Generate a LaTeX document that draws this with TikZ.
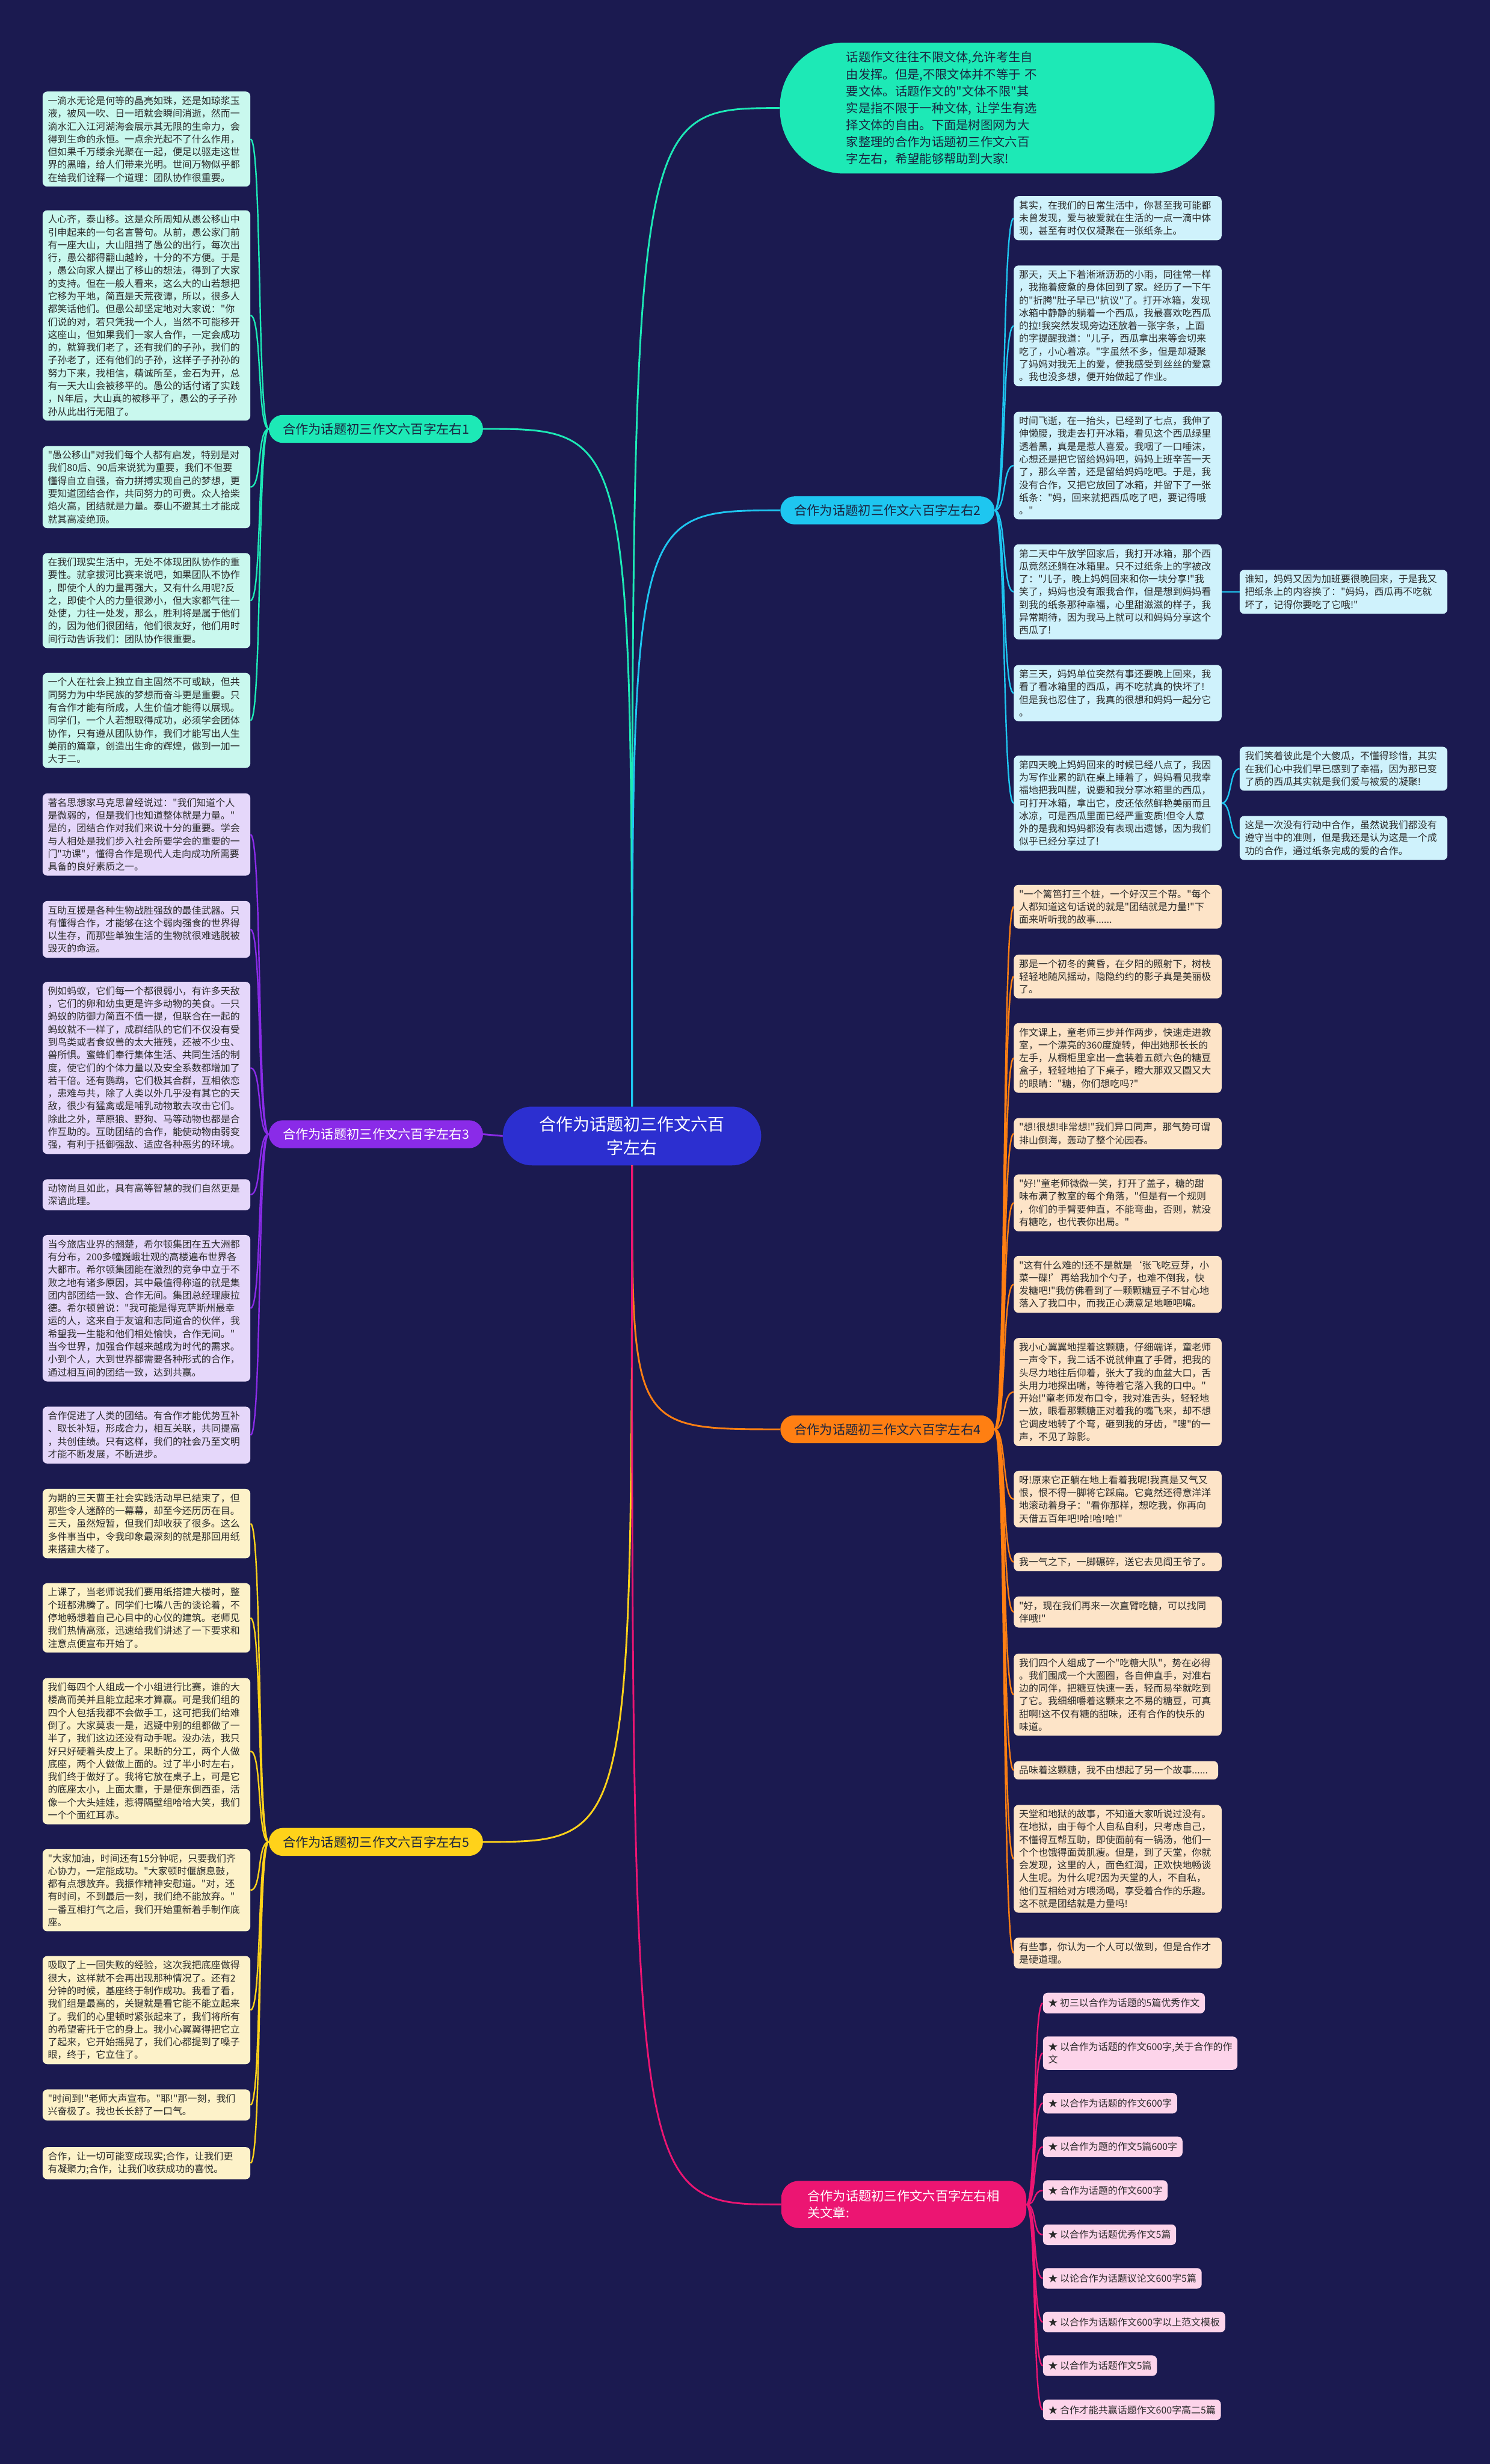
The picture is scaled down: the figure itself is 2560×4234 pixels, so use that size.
\documentclass[tikz,border=0pt]{standalone}
\usepackage{fontspec}
\setmainfont{Noto Sans CJK SC}
\newfontfamily\cjk{Noto Sans CJK SC}
\definecolor{bg}{HTML}{1B1A50}
\definecolor{cen}{HTML}{2C2FD0}
\definecolor{cA}{HTML}{1DE9B6}
\definecolor{cB}{HTML}{1EC6F0}
\definecolor{cC}{HTML}{8A2BE8}
\definecolor{cD}{HTML}{FF7F12}
\definecolor{cE}{HTML}{FFD21A}
\definecolor{cF}{HTML}{EC1572}
\definecolor{lA}{HTML}{C9F8EE}
\definecolor{lB}{HTML}{CFF2FC}
\definecolor{lC}{HTML}{E5D7FA}
\definecolor{lD}{HTML}{FDE4C8}
\definecolor{lE}{HTML}{FDF2C9}
\definecolor{lF}{HTML}{FDD4EA}
\definecolor{txt}{HTML}{2A2A2A}
\definecolor{dtxt}{HTML}{1A2440}
\tikzset{
  box/.style={rounded corners=8pt, anchor=west, text width=339pt, align=left,
    inner xsep=9pt, inner ysep=8pt, font=\cjk\fontsize{16.5}{22}\selectfont, text=txt},
  pbox/.style={rounded corners=8pt, anchor=west, align=left,
    inner xsep=9pt, inner ysep=10pt, font=\cjk\fontsize{16.5}{22}\selectfont, text=txt},
  bnode/.style={rounded corners=24pt, minimum width=368pt, minimum height=48pt,
    inner sep=0pt, font=\cjk\fontsize{22}{28}\selectfont},
  lnk/.style={line width=2.5pt},
  mlnk/.style={line width=3pt}
}
\begin{document}
\begin{tikzpicture}[x=1pt,y=-1pt]
\useasboundingbox (0,0) rectangle (2560,4234);
\fill[bg] (0,0) rectangle (2560,4234);

% centre and intro
\node[fill=cen, rounded corners=50pt, minimum width=444pt, minimum height=101pt, align=center,
  text=white, font=\cjk\fontsize{29}{40}\selectfont] (center) at (1086,1952) {合作为话题初三作文六百\\字左右};
\node[fill=cA, rounded corners=110pt, anchor=north west, minimum height=225pt, text width=519pt,
  inner xsep=114pt, inner ysep=10pt, align=left, text=dtxt, font=\cjk\fontsize{21}{29}\selectfont]
  (intro) at (1340,73) {话题作文往往不限文体,允许考生自\\由发挥。但是,不限文体并不等于 不\\要文体。话题作文的"文体不限"其\\实是指不限于一种文体, 让学生有选\\择文体的自由。下面是树图网为大\\家整理的合作为话题初三作文六百\\字左右，希望能够帮助到大家!};

% branch nodes
\node[bnode, fill=cA, text=dtxt] (b1) at (646,737) {合作为话题初三作文六百字左右1};
\node[bnode, fill=cB, text=dtxt] (b2) at (1525,877) {合作为话题初三作文六百字左右2};
\node[bnode, fill=cC, text=white] (b3) at (646,1949) {合作为话题初三作文六百字左右3};
\node[bnode, fill=cD, text=dtxt] (b4) at (1525,2456) {合作为话题初三作文六百字左右4};
\node[bnode, fill=cE, text=dtxt] (b5) at (646,3165) {合作为话题初三作文六百字左右5};
\node[rounded corners=30pt, fill=cF, text=white, minimum width=421pt, minimum height=81pt,
  text width=331pt, align=left, font=\cjk\fontsize{22}{29}\selectfont] (b6) at (1553,3788) {合作为话题初三作文六百字左右相\\关文章:};

% branch 1 children
\node[box, fill=lA] (l1) at (73,239) {一滴水无论是何等的晶亮如珠，还是如琼浆玉\\液，被风一吹、日一晒就会瞬间消逝，然而一\\滴水汇入江河湖海会展示其无限的生命力，会\\得到生命的永恒。一点余光起不了什么作用，\\但如果千万缕余光聚在一起，便足以驱走这世\\界的黑暗，给人们带来光明。世间万物似乎都\\在给我们诠释一个道理：团队协作很重要。};
\node[box, fill=lA] (l2) at (73,542) {人心齐，泰山移。这是众所周知从愚公移山中\\引申起来的一句名言警句。从前，愚公家门前\\有一座大山，大山阻挡了愚公的出行，每次出\\行，愚公都得翻山越岭，十分的不方便。于是\\，愚公向家人提出了移山的想法，得到了大家\\的支持。但在一般人看来，这么大的山若想把\\它移为平地，简直是天荒夜谭，所以，很多人\\都笑话他们。但愚公却坚定地对大家说："你\\们说的对，若只凭我一个人，当然不可能移开\\这座山，但如果我们一家人合作，一定会成功\\的，就算我们老了，还有我们的子孙，我们的\\子孙老了，还有他们的子孙，这样子子孙孙的\\努力下来，我相信，精诚所至，金石为开，总\\有一天大山会被移平的。愚公的话付诸了实践\\，N年后，大山真的被移平了，愚公的子子孙\\孙从此出行无阻了。};
\node[box, fill=lA] (l3) at (73,837) {"愚公移山"对我们每个人都有启发，特别是对\\我们80后、90后来说犹为重要，我们不但要\\懂得自立自强，奋力拼搏实现自己的梦想，更\\要知道团结合作，共同努力的可贵。众人拾柴\\焰火高，团结就是力量。泰山不避其土才能成\\就其高凌绝顶。};
\node[box, fill=lA] (l4) at (73,1032) {在我们现实生活中，无处不体现团队协作的重\\要性。就拿拔河比赛来说吧，如果团队不协作\\，即使个人的力量再强大，又有什么用呢?反\\之，即使个人的力量很渺小，但大家都气往一\\处使，力往一处发，那么，胜利将是属于他们\\的，因为他们很团结，他们很友好，他们用时\\间行动告诉我们：团队协作很重要。};
\node[box, fill=lA] (l5) at (73,1238) {一个人在社会上独立自主固然不可或缺，但共\\同努力为中华民族的梦想而奋斗更是重要。只\\有合作才能有所成，人生价值才能得以展现。\\同学们，一个人若想取得成功，必须学会团体\\协作，只有遵从团队协作，我们才能写出人生\\美丽的篇章，创造出生命的辉煌，做到一加一\\大于二。};

% branch 3 children
\node[box, fill=lC] (l6) at (73,1434) {著名思想家马克思曾经说过："我们知道个人\\是微弱的，但是我们也知道整体就是力量。"\\是的，团结合作对我们来说十分的重要。学会\\与人相处是我们步入社会所要学会的重要的一\\门"功课"，懂得合作是现代人走向成功所需要\\具备的良好素质之一。};
\node[box, fill=lC] (l7) at (73,1597) {互助互援是各种生物战胜强敌的最佳武器。只\\有懂得合作，才能够在这个弱肉强食的世界得\\以生存，而那些单独生活的生物就很难逃脱被\\毁灭的命运。};
\node[box, fill=lC] (l8) at (73,1835) {例如蚂蚁，它们每一个都很弱小，有许多天敌\\，它们的卵和幼虫更是许多动物的美食。一只\\蚂蚁的防御力简直不值一提，但联合在一起的\\蚂蚁就不一样了，成群结队的它们不仅没有受\\到鸟类或者食蚁兽的太大摧残，还被不少虫、\\兽所惧。蜜蜂们奉行集体生活、共同生活的制\\度，使它们的个体力量以及安全系数都增加了\\若干倍。还有鹦鹉，它们极其合群，互相依恋\\，患难与共，除了人类以外几乎没有其它的天\\敌，很少有猛禽或是哺乳动物敢去攻击它们。\\除此之外，草原狼、野狗、马等动物也都是合\\作互助的。互助团结的合作，能使动物由弱变\\强，有利于抵御强敌、适应各种恶劣的环境。};
\node[box, fill=lC] (l9) at (73,2053) {动物尚且如此，具有高等智慧的我们自然更是\\深谙此理。};
\node[box, fill=lC] (l10) at (73,2248) {当今旅店业界的翘楚，希尔顿集团在五大洲都\\有分布，200多幢巍峨壮观的高楼遍布世界各\\大都市。希尔顿集团能在激烈的竞争中立于不\\败之地有诸多原因，其中最值得称道的就是集\\团内部团结一致、合作无间。集团总经理康拉\\德。希尔顿曾说："我可能是得克萨斯州最幸\\运的人，这来自于友谊和志同道合的伙伴，我\\希望我一生能和他们相处愉快，合作无间。"\\当今世界，加强合作越来越成为时代的需求。\\小到个人，大到世界都需要各种形式的合作，\\通过相互间的团结一致，达到共赢。};
\node[box, fill=lC] (l11) at (73,2466) {合作促进了人类的团结。有合作才能优势互补\\、取长补短，形成合力，相互关联，共同提高\\，共创佳绩。只有这样，我们的社会乃至文明\\才能不断发展，不断进步。};

% branch 5 children
\node[box, fill=lE] (l12) at (73,2618) {为期的三天曹王社会实践活动早已结束了，但\\那些令人迷醉的一幕幕，却至今还历历在目。\\三天，虽然短暂，但我们却收获了很多。这么\\多件事当中，令我印象最深刻的就是那回用纸\\来搭建大楼了。};
\node[box, fill=lE] (l13) at (73,2780) {上课了，当老师说我们要用纸搭建大楼时，整\\个班都沸腾了。同学们七嘴八舌的谈论着，不\\停地畅想着自己心目中的心仪的建筑。老师见\\我们热情高涨，迅速给我们讲述了一下要求和\\注意点便宣布开始了。};
\node[box, fill=lE] (l14) at (73,3009) {我们每四个人组成一个小组进行比赛，谁的大\\楼高而美并且能立起来才算赢。可是我们组的\\四个人包括我都不会做手工，这可把我们给难\\倒了。大家莫衷一是，迟疑中别的组都做了一\\半了，我们这边还没有动手呢。没办法，我只\\好只好硬着头皮上了。果断的分工，两个人做\\底座，两个人做做上面的。过了半小时左右，\\我们终于做好了。我将它放在桌子上，可是它\\的底座太小，上面太重，于是便东倒西歪，活\\像一个大头娃娃，惹得隔壁组哈哈大笑，我们\\一个个面红耳赤。};
\node[box, fill=lE] (l15) at (73,3248) {"大家加油，时间还有15分钟呢，只要我们齐\\心协力，一定能成功。"大家顿时偃旗息鼓，\\都有点想放弃。我振作精神安慰道。"对，还\\有时间，不到最后一刻，我们绝不能放弃。"\\一番互相打气之后，我们开始重新着手制作底\\座。};
\node[box, fill=lE] (l16) at (73,3454) {吸取了上一回失败的经验，这次我把底座做得\\很大，这样就不会再出现那种情况了。还有2\\分钟的时候，基座终于制作成功。我看了看，\\我们组是最高的，关键就是看它能不能立起来\\了。我们的心里顿时紧张起来了，我们将所有\\的希望寄托于它的身上。我小心翼翼得把它立\\了起来，它开始摇晃了，我们心都提到了嗓子\\眼，终于，它立住了。};
\node[box, fill=lE] (l17) at (73,3617) {"时间到!"老师大声宣布。"耶!"那一刻，我们\\兴奋极了。我也长长舒了一口气。};
\node[box, fill=lE] (l18) at (73,3717) {合作，让一切可能变成现实;合作，让我们更\\有凝聚力;合作，让我们收获成功的喜悦。};

% branch 2 children
\node[box, fill=lB] (r1) at (1742,375) {其实，在我们的日常生活中，你甚至我可能都\\未曾发现，爱与被爱就在生活的一点一滴中体\\现，甚至有时仅仅凝聚在一张纸条上。};
\node[box, fill=lB] (r2) at (1742,560) {那天，天上下着淅淅沥沥的小雨，同往常一样\\，我拖着疲惫的身体回到了家。经历了一下午\\的"折腾"肚子早已"抗议"了。打开冰箱，发现\\冰箱中静静的躺着一个西瓜，我最喜欢吃西瓜\\的拉!我突然发现旁边还放着一张字条，上面\\的字提醒我道："儿子，西瓜拿出来等会切来\\吃了，小心着凉。"字虽然不多，但是却凝聚\\了妈妈对我无上的爱，使我感受到丝丝的爱意\\。我也没多想，便开始做起了作业。};
\node[box, fill=lB] (r3) at (1742,800) {时间飞逝，在一抬头，已经到了七点，我伸了\\伸懒腰，我走去打开冰箱，看见这个西瓜绿里\\透着黑，真是是惹人喜爱。我咽了一口唾沫，\\心想还是把它留给妈妈吧，妈妈上班辛苦一天\\了，那么辛苦，还是留给妈妈吃吧。于是，我\\没有合作，又把它放回了冰箱，并留下了一张\\纸条："妈，回来就把西瓜吃了吧，要记得哦\\。"};
\node[box, fill=lB] (r4) at (1742,1017) {第二天中午放学回家后，我打开冰箱，那个西\\瓜竟然还躺在冰箱里。只不过纸条上的字被改\\了："儿子，晚上妈妈回来和你一块分享!"我\\笑了，妈妈也没有跟我合作，但是想到妈妈看\\到我的纸条那种幸福，心里甜滋滋的样子，我\\异常期待，因为我马上就可以和妈妈分享这个\\西瓜了!};
\node[box, fill=lB] (r5) at (1742,1191) {第三天，妈妈单位突然有事还要晚上回来，我\\看了看冰箱里的西瓜，再不吃就真的快坏了!\\但是我也忍住了，我真的很想和妈妈一起分它\\。};
\node[box, fill=lB] (r6) at (1742,1380) {第四天晚上妈妈回来的时候已经八点了，我因\\为写作业累的趴在桌上睡着了，妈妈看见我幸\\福地把我叫醒，说要和我分享冰箱里的西瓜，\\可打开冰箱，拿出它，皮还依然鲜艳美丽而且\\冰凉，可是西瓜里面已经严重变质!但令人意\\外的是我和妈妈都没有表现出遗憾，因为我们\\似乎已经分享过了!};
\node[box, fill=lB] (f1) at (2130,1017) {谁知，妈妈又因为加班要很晚回来，于是我又\\把纸条上的内容换了："妈妈，西瓜再不吃就\\坏了，记得你要吃了它哦!"};
\node[box, fill=lB] (f2) at (2130,1321) {我们笑着彼此是个大傻瓜，不懂得珍惜，其实\\在我们心中我们早已感到了幸福，因为那已变\\了质的西瓜其实就是我们爱与被爱的凝聚!};
\node[box, fill=lB] (f3) at (2130,1440) {这是一次没有行动中合作，虽然说我们都没有\\遵守当中的准则，但是我还是认为这是一个成\\功的合作，通过纸条完成的爱的合作。};

% branch 4 children
\node[box, fill=lD] (o1) at (1742,1558) {"一个篱笆打三个桩，一个好汉三个帮。"每个\\人都知道这句话说的就是"团结就是力量!"下\\面来听听我的故事......};
\node[box, fill=lD] (o2) at (1742,1678) {那是一个初冬的黄昏，在夕阳的照射下，树枝\\轻轻地随风摇动，隐隐约约的影子真是美丽极\\了。};
\node[box, fill=lD] (o3) at (1742,1818) {作文课上，童老师三步并作两步，快速走进教\\室，一个漂亮的360度旋转，伸出她那长长的\\左手，从橱柜里拿出一盒装着五颜六色的糖豆\\盒子，轻轻地拍了下桌子，瞪大那双又圆又大\\的眼睛："糖，你们想吃吗?"};
\node[box, fill=lD] (o4) at (1742,1948) {"想!很想!非常想!"我们异口同声，那气势可谓\\排山倒海，轰动了整个沁园春。};
\node[box, fill=lD] (o5) at (1742,2067) {"好!"童老师微微一笑，打开了盖子，糖的甜\\味布满了教室的每个角落，"但是有一个规则\\，你们的手臂要伸直，不能弯曲，否则，就没\\有糖吃，也代表你出局。"};
\node[box, fill=lD] (o6) at (1742,2207) {"这有什么难的!还不是就是‘张飞吃豆芽，小\\菜一碟!’再给我加个勺子，也难不倒我，快\\发糖吧!"我仿佛看到了一颗颗糖豆子不甘心地\\落入了我口中，而我正心满意足地咂吧嘴。};
\node[box, fill=lD] (o7) at (1742,2392) {我小心翼翼地捏着这颗糖，仔细端详，童老师\\一声令下，我二话不说就伸直了手臂，把我的\\头尽力地往后仰着，张大了我的血盆大口，舌\\头用力地探出嘴，等待着它落入我的口中。"\\开始!"童老师发布口令，我对准舌头，轻轻地\\一放，眼看那颗糖正对着我的嘴飞来，却不想\\它调皮地转了个弯，砸到我的牙齿，"嗖"的一\\声，不见了踪影。};
\node[box, fill=lD] (o8) at (1742,2576) {呀!原来它正躺在地上看着我呢!我真是又气又\\恨，恨不得一脚将它踩扁。它竟然还得意洋洋\\地滚动着身子："看你那样，想吃我，你再向\\天借五百年吧!哈!哈!哈!"};
\node[box, fill=lD] (o9) at (1742,2684) {我一气之下，一脚碾碎，送它去见阎王爷了。};
\node[box, fill=lD] (o10) at (1742,2770) {"好，现在我们再来一次直臂吃糖，可以找同\\伴哦!"};
\node[box, fill=lD] (o11) at (1742,2912) {我们四个人组成了一个"吃糖大队"，势在必得\\。我们围成一个大圈圈，各自伸直手，对准右\\边的同伴，把糖豆快速一丢，轻而易举就吃到\\了它。我细细嚼着这颗来之不易的糖豆，可真\\甜啊!这不仅有糖的甜味，还有合作的快乐的\\味道。};
\node[box, fill=lD, text width=333pt] (o12) at (1742,3042) {品味着这颗糖，我不由想起了另一个故事......};
\node[box, fill=lD] (o13) at (1742,3194) {天堂和地狱的故事，不知道大家听说过没有。\\在地狱，由于每个人自私自利，只考虑自己，\\不懂得互帮互助，即使面前有一锅汤，他们一\\个个也饿得面黄肌瘦。但是，到了天堂，你就\\会发现，这里的人，面色红润，正欢快地畅谈\\人生呢。为什么呢?因为天堂的人，不自私，\\他们互相给对方喂汤喝，享受着合作的乐趣。\\这不就是团结就是力量吗!};
\node[box, fill=lD] (o14) at (1742,3356) {有些事，你认为一个人可以做到，但是合作才\\是硬道理。};

% branch 6 children
\node[pbox, fill=lF] (p1) at (1792,3442) {★ 初三以合作为话题的5篇优秀作文};
\node[pbox, fill=lF] (p2) at (1792,3528) {★ 以合作为话题的作文600字,关于合作的作\\文};
\node[pbox, fill=lF] (p3) at (1792,3614) {★ 以合作为话题的作文600字};
\node[pbox, fill=lF] (p4) at (1792,3689) {★ 以合作为题的作文5篇600字};
\node[pbox, fill=lF] (p5) at (1792,3764) {★ 合作为话题的作文600字};
\node[pbox, fill=lF] (p6) at (1792,3840) {★ 以合作为话题优秀作文5篇};
\node[pbox, fill=lF] (p7) at (1792,3915) {★ 以论合作为话题议论文600字5篇};
\node[pbox, fill=lF] (p8) at (1792,3990) {★ 以合作为话题作文600字以上范文模板};
\node[pbox, fill=lF] (p9) at (1792,4065) {★ 以合作为话题作文5篇};
\node[pbox, fill=lF] (p10) at (1792,4141) {★ 合作才能共赢话题作文600字高二5篇};

% main connectors
\draw[mlnk, cA] (center.north) .. controls (center.north |- intro.west) .. (intro.west);
\draw[mlnk, cA] (center.north) .. controls (center.north |- b1.east) .. (b1.east);
\draw[mlnk, cB] (center.north) .. controls (center.north |- b2.west) .. (b2.west);
\draw[mlnk, cC] (center.west) -- (b3.east);
\draw[mlnk, cD] (center.south) .. controls (center.south |- b4.west) .. (b4.west);
\draw[mlnk, cE] (center.south) .. controls (center.south |- b5.east) .. (b5.east);
\draw[mlnk, cF] (center.south) .. controls (center.south |- b6.west) .. (b6.west);

% child connectors
\foreach \c in {l1,l2,l3,l4,l5}
  \draw[lnk, cA] (b1.west) .. controls +(-20,0) and +(20,0) .. (\c.east);
\foreach \c in {l6,l7,l8,l9,l10,l11}
  \draw[lnk, cC] (b3.west) .. controls +(-20,0) and +(20,0) .. (\c.east);
\foreach \c in {l12,l13,l14,l15,l16,l17,l18}
  \draw[lnk, cE] (b5.west) .. controls +(-20,0) and +(20,0) .. (\c.east);
\foreach \c in {r1,r2,r3,r4,r5,r6}
  \draw[lnk, cB] (b2.east) .. controls +(20,0) and +(-20,0) .. (\c.west);
\foreach \c in {o1,o2,o3,o4,o5,o6,o7,o8,o9,o10,o11,o12,o13,o14}
  \draw[lnk, cD] (b4.east) .. controls +(20,0) and +(-20,0) .. (\c.west);
\foreach \c in {p1,p2,p3,p4,p5,p6,p7,p8,p9,p10}
  \draw[lnk, cF] (b6.east) .. controls +(18,0) and +(-18,0) .. (\c.west);
\draw[lnk, cB] (r4.east) -- (f1.west);
\draw[lnk, cB] (r6.east) .. controls +(18,0) and +(-18,0) .. (f2.west);
\draw[lnk, cB] (r6.east) .. controls +(18,0) and +(-18,0) .. (f3.west);
\end{tikzpicture}
\end{document}
